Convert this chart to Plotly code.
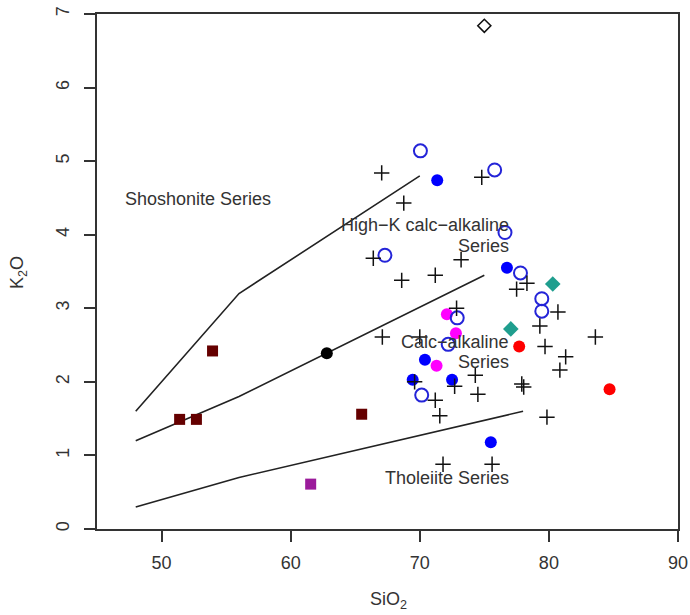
import plotly.graph_objects as go

# ---- data ----
cross_x = [67.05, 68.76, 74.8, 66.4, 68.6, 71.2, 73.2, 77.5, 78.3, 80.7, 79.3, 79.7, 83.6, 81.3,
           80.85, 77.9, 78.05, 74.3, 74.5, 72.85, 72.7, 79.85, 75.6, 67.1, 70.0, 69.6, 71.2, 71.55, 71.8]
cross_y = [4.84, 4.43, 4.78, 3.68, 3.38, 3.45, 3.66, 3.26, 3.34, 2.95, 2.76, 2.48, 2.61, 2.34,
           2.16, 1.97, 1.93, 2.09, 1.83, 3.0, 1.94, 1.52, 0.88, 2.61, 2.61, 2.0, 1.75, 1.54, 0.88]

open_circ_x = [70.05, 75.8, 67.3, 76.6, 77.8, 79.45, 79.45, 72.9, 72.2, 70.15]
open_circ_y = [5.14, 4.88, 3.72, 4.03, 3.48, 3.13, 2.96, 2.87, 2.51, 1.82]

blue_x = [71.35, 76.75, 70.4, 69.45, 72.5, 75.5]
blue_y = [4.74, 3.55, 2.30, 2.03, 2.03, 1.18]

magenta_x = [72.1, 72.8, 71.3]
magenta_y = [2.92, 2.66, 2.22]

red_x = [77.7, 84.7]
red_y = [2.48, 1.90]

teal_x = [80.3, 77.05]
teal_y = [3.33, 2.72]

maroon_x = [51.4, 52.7, 53.95, 65.5]
maroon_y = [1.49, 1.49, 2.42, 1.56]

purple_x = [61.55]
purple_y = [0.61]

black_x = [62.8]
black_y = [2.39]

opendiam_x = [75.0]
opendiam_y = [6.84]

# boundary lines
sho_x = [48, 56, 70]
sho_y = [1.6, 3.2, 4.8]
hk_x = [48, 56, 75]
hk_y = [1.2, 1.8, 3.45]
th_x = [48, 56, 78]
th_y = [0.3, 0.7, 1.6]

# field labels
label_text = ["Shoshonite Series", "High\u2212K calc\u2212alkaline", "Series",
              "Calc\u2212alkaline", "Series", "Tholeiite Series"]
label_x = [52.82, 77.05, 77.05, 77.05, 77.05, 77.05]
label_y = [4.48, 4.13, 3.85, 2.54, 2.27, 0.69]
label_anchor = ["center", "right", "right", "right", "right", "right"]

xticks = [50, 60, 70, 80, 90]
yticks = [0, 1, 2, 3, 4, 5, 6, 7]

FONT = "Liberation Sans, Arial, sans-serif"
TXT = "#333333"

fig = go.Figure()

for lx, ly in [(sho_x, sho_y), (hk_x, hk_y), (th_x, th_y)]:
    fig.add_trace(go.Scatter(x=lx, y=ly, mode="lines",
                             line=dict(color="#222222", width=1.6), showlegend=False, hoverinfo="skip"))

def pts(x, y, symbol, color, size, line_color=None, line_width=0):
    fig.add_trace(go.Scatter(
        x=x, y=y, mode="markers", showlegend=False,
        marker=dict(symbol=symbol, color=color, size=size,
                    line=dict(color=line_color if line_color else color, width=line_width))))

pts(maroon_x, maroon_y, "square", "#650000", 11)
pts(purple_x, purple_y, "square", "#9b1b9b", 11)
pts(black_x, black_y, "circle", "#000000", 12)
pts(blue_x, blue_y, "circle", "#0000ff", 12)
pts(magenta_x, magenta_y, "circle", "#ff00ff", 12)
pts(red_x, red_y, "circle", "#ff0000", 12)
pts(teal_x, teal_y, "diamond", "#1f9e8e", 12)
pts(open_circ_x, open_circ_y, "circle-open", "#2424d8", 13, "#2424d8", 2)
pts(opendiam_x, opendiam_y, "diamond-open", "#111111", 10, "#111111", 1.6)
pts(cross_x, cross_y, "cross-thin", "#111111", 11, "#111111", 1.5)

for t, x, y, a in zip(label_text, label_x, label_y, label_anchor):
    fig.add_annotation(x=x, y=y, text=t, showarrow=False, xanchor=a, yanchor="middle",
                       font=dict(family=FONT, size=18, color=TXT))

# axis titles
fig.add_annotation(xref="paper", yref="paper", x=(388 - 97) / 581, y=(529 - 600) / 515,
                   text="SiO<sub>2</sub>", showarrow=False, xanchor="center", yanchor="middle",
                   font=dict(family=FONT, size=18, color=TXT))
fig.add_annotation(xref="paper", yref="paper", x=(18 - 97) / 581, y=(529 - 272) / 515,
                   text="K<sub>2</sub>O", showarrow=False, textangle=-90, xanchor="center",
                   yanchor="middle", font=dict(family=FONT, size=18, color=TXT))

axis_common = dict(showline=True, linecolor="#333333", linewidth=1.6, mirror=True,
                   ticks="outside", ticklen=11, tickwidth=1.5, tickcolor="#333333",
                   showgrid=False, zeroline=False,
                   tickfont=dict(family=FONT, size=18, color=TXT))

fig.update_xaxes(range=[45, 90], tickvals=xticks, ticktext=[str(v) for v in xticks],
                 ticklabelstandoff=6, **axis_common)
fig.update_yaxes(range=[0, 7], tickvals=yticks, ticktext=[str(v) for v in yticks],
                 tickangle=-90, ticklabelstandoff=8, **axis_common)

fig.update_layout(width=690, height=615, margin=dict(l=97, r=12, t=14, b=86, autoexpand=False),
                  plot_bgcolor="white", paper_bgcolor="white", showlegend=False)

fig.write_html("out.html")
